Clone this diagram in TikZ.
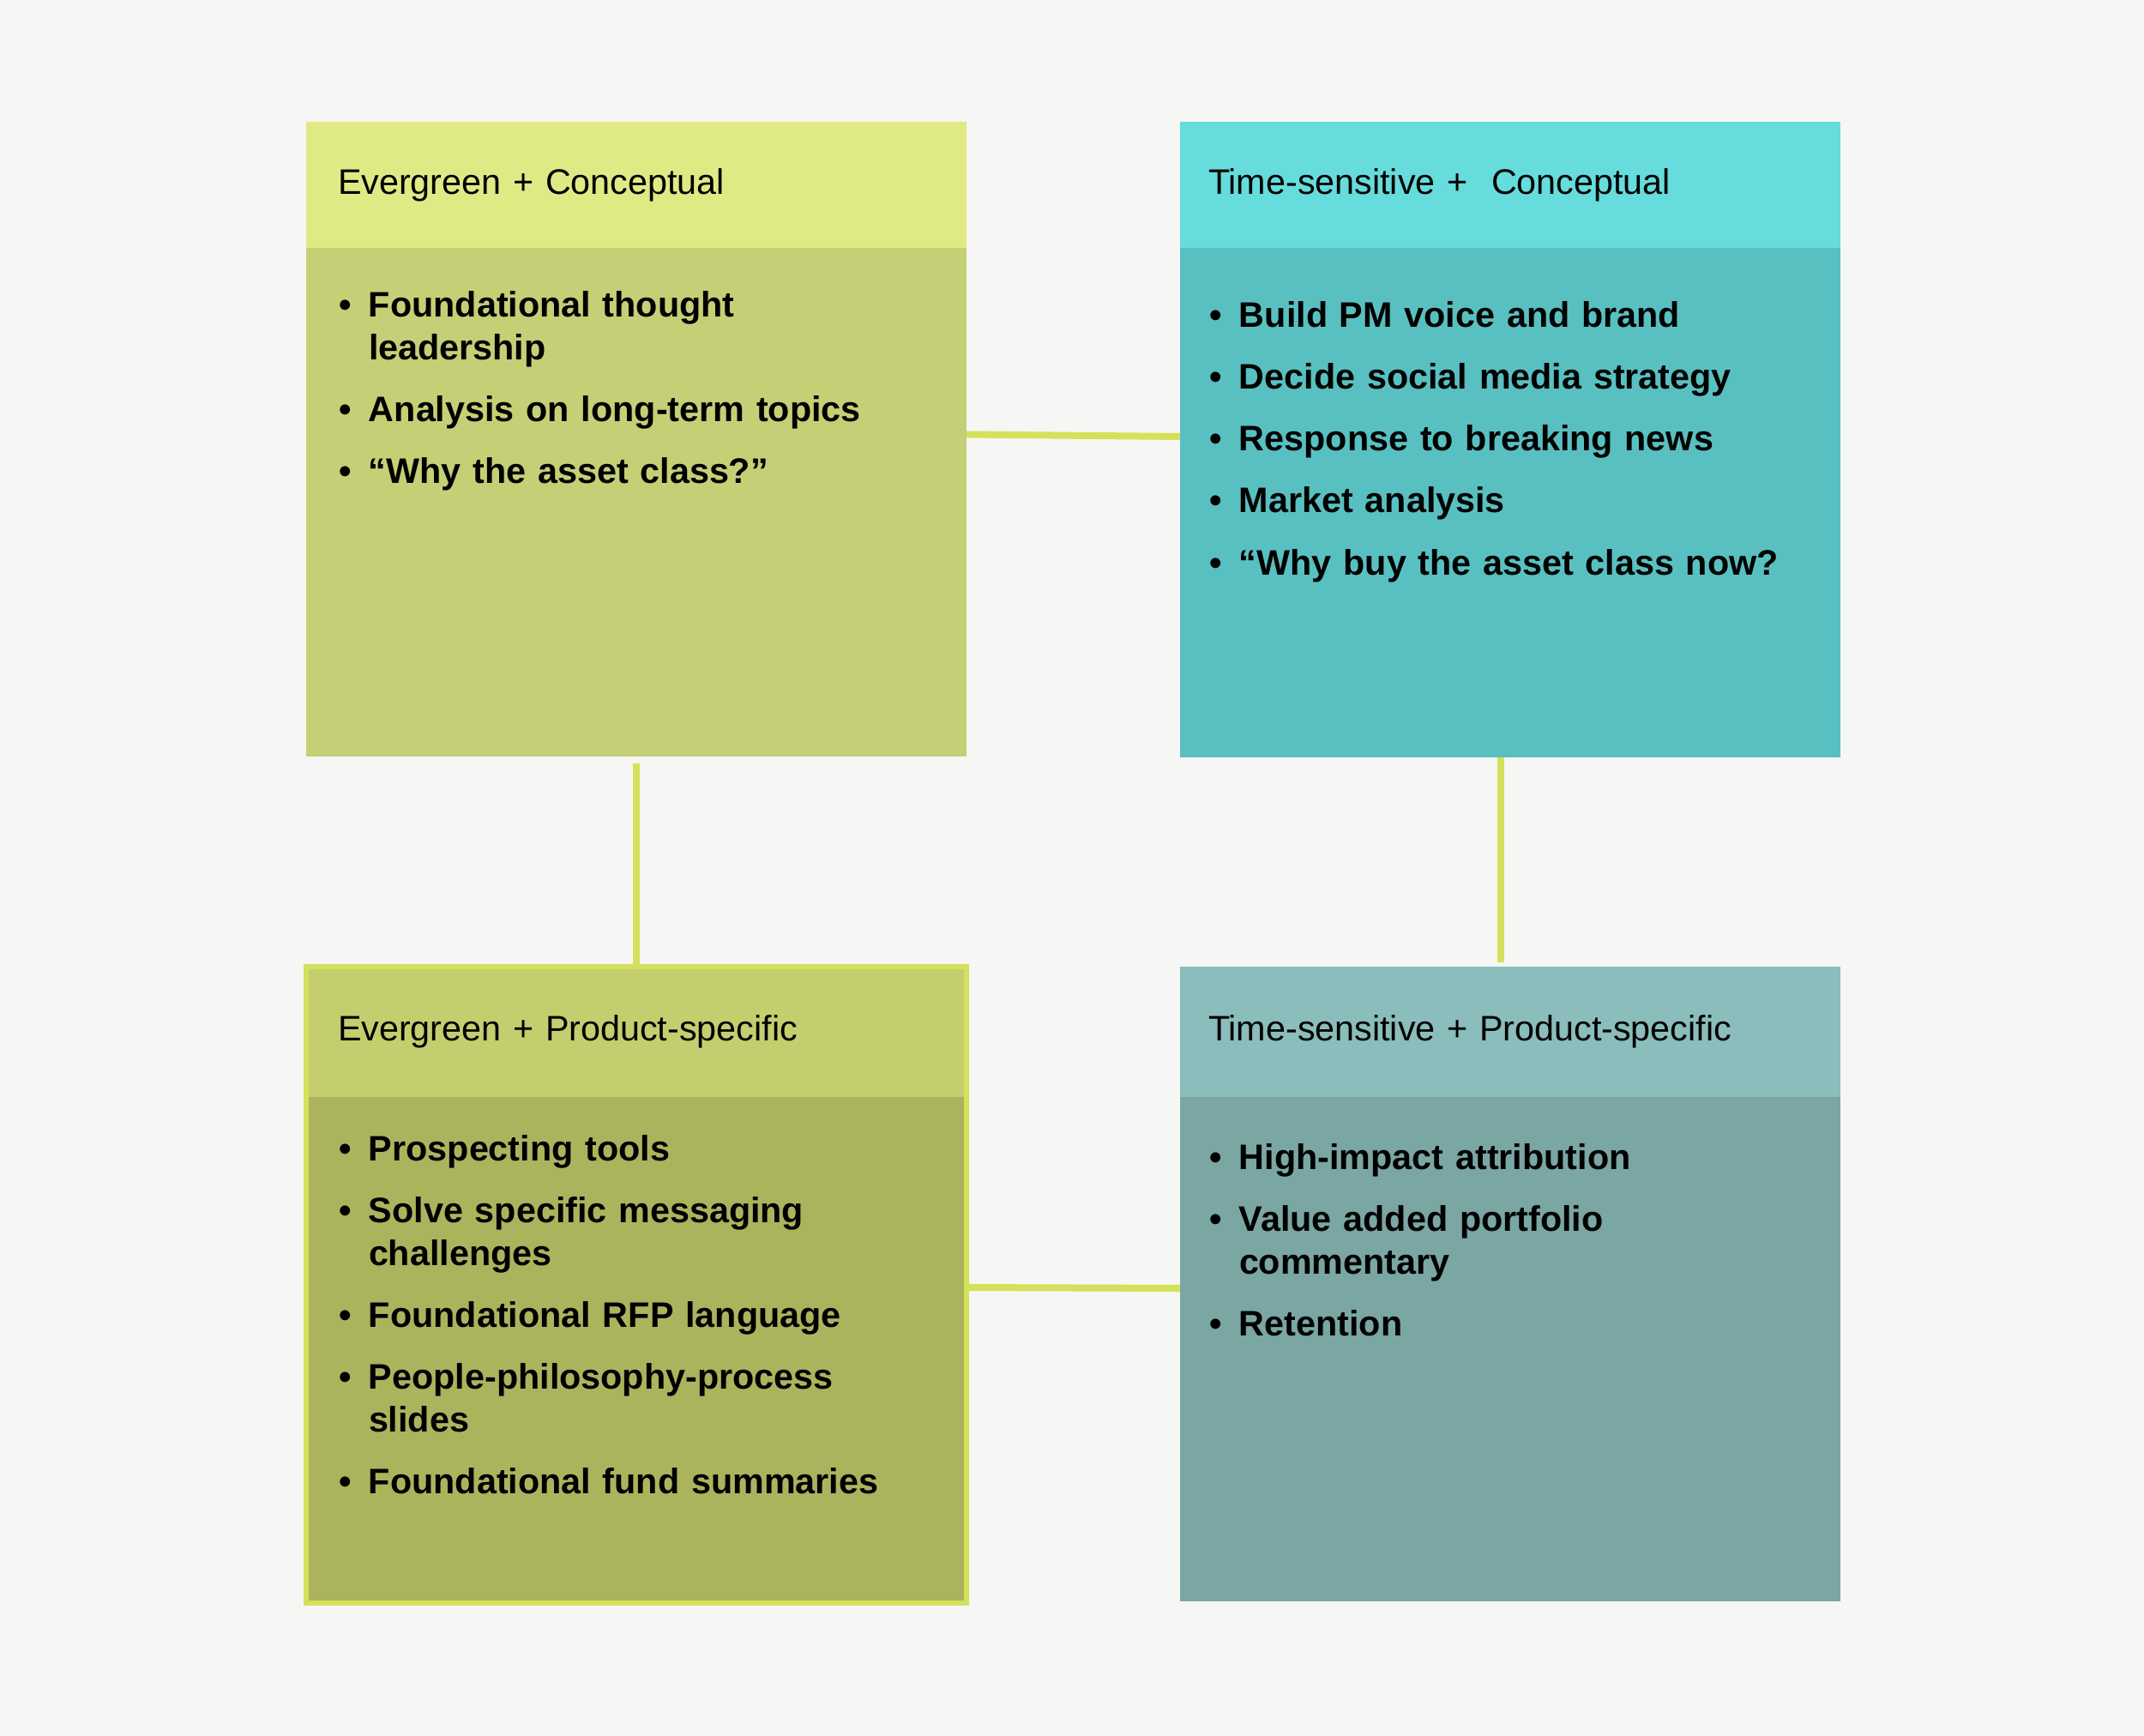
\documentclass[tikz,border=0pt]{standalone}
\usepackage{fontspec}
\setmainfont{Liberation Sans}
\usepackage{tikz}
\usetikzlibrary{positioning}
\usepackage{xcolor}

\definecolor{pagebg}{HTML}{F6F6F4}
\definecolor{ecHead}{HTML}{E0EA85}
\definecolor{ecBody}{HTML}{C5CF75}
\definecolor{tcHead}{HTML}{66DCDC}
\definecolor{tcBody}{HTML}{59C0C1}
\definecolor{epHead}{HTML}{C5CE6E}
\definecolor{epBody}{HTML}{ABB45D}
\definecolor{tpHead}{HTML}{8ABDBB}
\definecolor{tpBody}{HTML}{7AA6A4}
\definecolor{lime}{HTML}{D4E15A}

\newcommand{\headfont}{\fontsize{11.75pt}{14pt}\selectfont}
\newcommand{\listfont}{\fontsize{11.75pt}{0.5cm}\selectfont\bfseries\hyphenpenalty=10000}
\newcommand{\litem}[1]{\hangindent=0.35cm\hangafter=1\noindent\makebox[0.35cm][l]{\rule{0pt}{0.35cm}\textbullet}#1\par\vspace{0.22cm}}

\begin{document}
\begin{tikzpicture}[
    head/.style={rectangle, inner xsep=0.37cm, inner ysep=0pt, outer sep=0pt, text width=6.96cm, align=left, font=\headfont},
    body/.style={rectangle, inner sep=0pt, outer sep=0pt, minimum width=7.7cm},
    items/.style={inner sep=0pt, outer sep=0pt, align=left, font=\listfont},
    link/.style={draw=lime, line width=0.08cm}
]
    \useasboundingbox [fill=pagebg] (0,0) rectangle (25,-20.24);

    % top row
    \node (TLhead) [head, fill=ecHead, minimum height=1.47cm, anchor=north west] at (3.57,-1.42) {Evergreen + Conceptual};
    \node (TLbody) [body, fill=ecBody, minimum height=5.93cm, below=0pt of TLhead] {};
    \node (TRhead) [head, fill=tcHead, minimum height=1.47cm, inner xsep=0.33cm, text width=7.04cm, right=2.49cm of TLhead] {Time-sensitive +\ \ Conceptual};
    \node (TRbody) [body, fill=tcBody, minimum height=5.94cm, below=0pt of TRhead] {};

    % bottom row
    \node (BLhead) [head, fill=epHead, minimum height=1.52cm, below=2.45cm of TLbody] {Evergreen + Product-specific};
    \node (BLbody) [body, fill=epBody, minimum height=5.90cm, below=0pt of BLhead] {};
    \node (BRhead) [head, fill=tpHead, minimum height=1.52cm, inner xsep=0.33cm, text width=7.04cm, below=2.44cm of TRbody] {Time-sensitive + Product-specific};
    \node (BRbody) [body, fill=tpBody, minimum height=5.88cm, below=0pt of BRhead] {};
    \draw [lime, line width=0.06cm] (BLhead.north west) rectangle (BLbody.south east);

    % bullet lists
    \node (TLtext) [items, text width=6.6cm, below right=0.46cm and 0.38cm of TLbody.north west] {%
        \litem{Foundational thought leadership}
        \litem{Analysis on long-term topics}
        \litem{“Why the asset class?”}};
    \node (TRtext) [items, text width=6.85cm, below right=0.58cm and 0.34cm of TRbody.north west] {%
        \litem{Build PM voice and brand}
        \litem{Decide social media strategy}
        \litem{Response to breaking news}
        \litem{Market analysis}
        \litem{“Why buy the asset class now?}};
    \node (BLtext) [items, text width=6.6cm, below right=0.39cm and 0.38cm of BLbody.north west] {%
        \litem{Prospecting tools}
        \litem{Solve specific messaging challenges}
        \litem{Foundational RFP language}
        \litem{People-philosophy-process slides}
        \litem{Foundational fund summaries}};
    \node (BRtext) [items, text width=6.85cm, below right=0.49cm and 0.34cm of BRbody.north west] {%
        \litem{High-impact attribution}
        \litem{Value added portfolio commentary}
        \litem{Retention}};

    % connectors
    \draw [link] ([yshift=0.79cm]TLbody.east) -- ([yshift=0.77cm]TRbody.west);
    \draw [link] ([yshift=0.73cm]BLbody.east) -- ([yshift=0.71cm]BRbody.west);
    \draw [link] ([yshift=-0.08cm]TLbody.south) -- (BLhead.north);
    \draw [link] ([xshift=-0.11cm]TRbody.south) -- ([xshift=-0.11cm, yshift=0.05cm]BRhead.north);
\end{tikzpicture}
\end{document}
